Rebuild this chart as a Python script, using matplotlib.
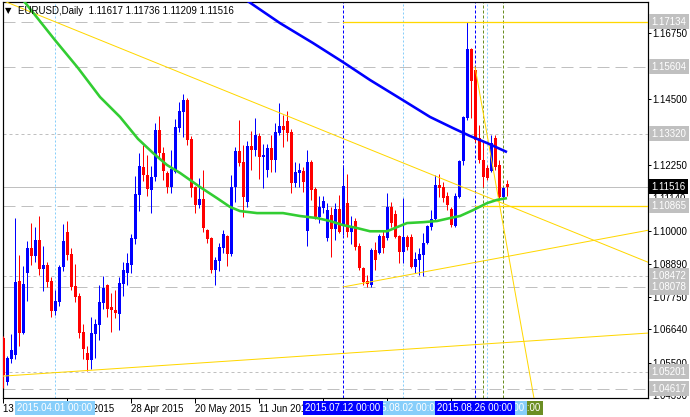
import numpy as np
import pandas as pd
import matplotlib
matplotlib.use("Agg")
import matplotlib.pyplot as plt
import matplotlib.transforms as mtransforms

PX = 0.72  # one pixel in points (dpi 100)

# EURUSD daily bars, one per business day starting 2015-03-13
opens = [1.0635, 1.0485, 1.0563, 1.0577, 1.0829, 1.0652, 1.0856, 1.0942, 1.0914, 1.0969,
         1.0870, 1.0884, 1.0829, 1.0727, 1.0758, 1.0877, 1.0996, 1.0921, 1.0812, 1.0778,
         1.0655, 1.0584, 1.0560, 1.0649, 1.0680, 1.0754, 1.0816, 1.0741, 1.0730, 1.0717,
         1.0819, 1.0856, 1.0884, 1.0972, 1.1123, 1.1218, 1.1191, 1.1140, 1.1184, 1.1344,
         1.1266, 1.1197, 1.1150, 1.1201, 1.1351, 1.1406, 1.1447, 1.1314, 1.1150, 1.1088,
         1.1109, 1.1003, 1.0976, 1.0867, 1.0897, 1.0942, 1.0983, 1.0921, 1.1150, 1.1273,
         1.1235, 1.1099, 1.1290, 1.1276, 1.1324, 1.1252, 1.1208, 1.1283, 1.1242, 1.1334,
         1.1358, 1.1375, 1.1337, 1.1163, 1.1197, 1.1204, 1.0999, 1.1235, 1.1143, 1.1048,
         1.1078, 1.0976, 1.1054, 1.1006, 1.1075, 1.1020, 1.1095, 1.0996, 1.1034, 1.0949,
         1.0874, 1.0830, 1.0816, 1.0935, 1.0925, 1.0983, 1.0976, 1.1082, 1.1058, 1.0983,
         1.0928, 1.0979, 1.0979, 1.0877, 1.0901, 1.0918, 1.0959, 1.1013, 1.1041, 1.1157,
         1.1150, 1.1119, 1.1075, 1.1017, 1.1116, 1.1238, 1.1385, 1.1620, 1.1549, 1.1317,
         1.1242, 1.1215, 1.1204, 1.1317, 1.1225, 1.1116, 1.11617]
highs = [1.0642, 1.0574, 1.0649, 1.1044, 1.0918, 1.0880, 1.0966, 1.1027, 1.1013, 1.1051,
         1.0949, 1.0894, 1.0843, 1.0799, 1.0884, 1.1024, 1.1034, 1.0942, 1.0887, 1.0788,
         1.0683, 1.0608, 1.0707, 1.0700, 1.0816, 1.0846, 1.0819, 1.0788, 1.0799, 1.0843,
         1.0894, 1.0925, 1.0990, 1.1187, 1.1266, 1.1293, 1.1259, 1.1221, 1.1368, 1.1392,
         1.1286, 1.1204, 1.1276, 1.1382, 1.1440, 1.1467, 1.1454, 1.1324, 1.1153, 1.1181,
         1.1208, 1.1006, 1.0979, 1.0911, 1.0959, 1.1003, 1.0986, 1.1191, 1.1286, 1.1378,
         1.1293, 1.1307, 1.1341, 1.1385, 1.1334, 1.1297, 1.1297, 1.1327, 1.1368, 1.1436,
         1.1395, 1.1409, 1.1348, 1.1235, 1.1232, 1.1218, 1.1276, 1.1242, 1.1150, 1.1119,
         1.1119, 1.1095, 1.1082, 1.1095, 1.1123, 1.1225, 1.1194, 1.1050, 1.1044, 1.0959,
         1.0877, 1.0850, 1.0942, 1.0962, 1.0990, 1.1003, 1.1129, 1.1099, 1.1071, 1.0986,
         1.1112, 1.0986, 1.0990, 1.0928, 1.0942, 1.0993, 1.1020, 1.1071, 1.1191, 1.1194,
         1.1167, 1.1133, 1.1082, 1.1129, 1.1242, 1.1392, 1.1713, 1.1624, 1.1560, 1.1361,
         1.1303, 1.1225, 1.1327, 1.1327, 1.1242, 1.1150, 1.11736]
lows = [1.0465, 1.0475, 1.0550, 1.0563, 1.0608, 1.0650, 1.0761, 1.0884, 1.0894, 1.0850,
        1.0795, 1.0809, 1.0707, 1.0713, 1.0744, 1.0863, 1.0901, 1.0799, 1.0758, 1.0635,
        1.0563, 1.0521, 1.0530, 1.0567, 1.0628, 1.0734, 1.0707, 1.0655, 1.0703, 1.0662,
        1.0778, 1.0816, 1.0856, 1.0955, 1.1068, 1.1170, 1.1119, 1.1061, 1.1170, 1.1245,
        1.1174, 1.1129, 1.1129, 1.1197, 1.1337, 1.1320, 1.1293, 1.1116, 1.1061, 1.1078,
        1.0996, 1.0959, 1.0856, 1.0816, 1.0863, 1.0925, 1.0880, 1.0914, 1.1100, 1.1221,
        1.1048, 1.1082, 1.1208, 1.1256, 1.1177, 1.1147, 1.1184, 1.1201, 1.1201, 1.1327,
        1.1286, 1.1307, 1.1129, 1.1150, 1.1150, 1.1133, 1.0949, 1.1106, 1.1041, 1.1027,
        1.1061, 1.0966, 1.0911, 1.0969, 1.0993, 1.0986, 1.0979, 1.0955, 1.0935, 1.0867,
        1.0816, 1.0808, 1.0809, 1.0867, 1.0921, 1.0925, 1.0969, 1.1013, 1.0976, 1.0891,
        1.0891, 1.0935, 1.0874, 1.0856, 1.0849, 1.0848, 1.0955, 1.1003, 1.1037, 1.1116,
        1.1099, 1.1071, 1.1013, 1.1013, 1.1112, 1.1225, 1.1378, 1.1385, 1.1303, 1.1232,
        1.1150, 1.1174, 1.1201, 1.1208, 1.1106, 1.1105, 1.11209]
closes = [1.0509, 1.0567, 1.0594, 1.0826, 1.0652, 1.0819, 1.0942, 1.0914, 1.0969, 1.0870,
          1.0884, 1.0826, 1.0727, 1.0761, 1.0877, 1.0966, 1.0918, 1.0809, 1.0775, 1.0652,
          1.0597, 1.0560, 1.0652, 1.0683, 1.0758, 1.0806, 1.0734, 1.0730, 1.0720, 1.0822,
          1.0867, 1.0890, 1.0976, 1.1126, 1.1221, 1.1191, 1.1143, 1.1184, 1.1344, 1.1266,
          1.1204, 1.1150, 1.1211, 1.1354, 1.1409, 1.1447, 1.1310, 1.1147, 1.1088, 1.1109,
          1.1010, 1.0972, 1.0867, 1.0901, 1.0945, 1.0990, 1.0921, 1.1150, 1.1273, 1.1232,
          1.1116, 1.1290, 1.1276, 1.1327, 1.1252, 1.1259, 1.1283, 1.1242, 1.1337, 1.1358,
          1.1344, 1.1334, 1.1163, 1.1201, 1.1208, 1.1167, 1.1235, 1.1140, 1.1048, 1.1082,
          1.1102, 1.1071, 1.1006, 1.1075, 1.0996, 1.1153, 1.0996, 1.1010, 1.0945, 1.0874,
          1.0826, 1.0819, 1.0935, 1.0901, 1.0983, 1.0942, 1.1082, 1.1027, 1.0979, 1.0928,
          1.0979, 1.0945, 1.0877, 1.0904, 1.0921, 1.0959, 1.1017, 1.1041, 1.1157, 1.1146,
          1.1112, 1.1088, 1.1020, 1.1119, 1.1238, 1.1389, 1.1620, 1.1511, 1.1310, 1.1242,
          1.1184, 1.1181, 1.1300, 1.1218, 1.1116, 1.1147, 1.11516]

dates = pd.bdate_range("2015-03-13", periods=len(opens))

# moving averages (bar position, price)
green_ma_bar = [4, 5, 13, 18.75, 24.25, 29.25, 33.75, 37.5, 41, 44.25, 49.25, 53.5, 56.75,
                59.25, 63.5, 70, 74.25, 78.5, 81.75, 85, 88.5, 91.75, 96, 98.5, 101, 105,
                108.5, 111.75, 114.25, 117.5, 121, 123.5, 126]
green_ma_val = [1.1802, 1.1788, 1.1651, 1.1556, 1.1457, 1.1389, 1.1314, 1.1266, 1.1225,
                1.1198, 1.1150, 1.1112, 1.1082, 1.1068, 1.1061, 1.1061, 1.1051, 1.1044,
                1.1034, 1.1020, 1.1010, 1.0999, 1.0999, 1.1013, 1.1027, 1.1030, 1.1034,
                1.1044, 1.1051, 1.1071, 1.1095, 1.1106, 1.1112]
blue_ma_bar = [60, 60.75, 69.25, 77.5, 85, 91.75, 100, 106.75, 112.5, 116.75, 121, 126]
blue_ma_val = [1.1795, 1.1788, 1.1709, 1.1641, 1.1576, 1.1515, 1.1446, 1.1389, 1.1351,
               1.1324, 1.1300, 1.1269]

# trend lines: ((bar, price), (bar, price))
trend_lines = [((-1, 1.1791), (161.5, 1.0892)),
               ((-1, 1.0504), (161.5, 1.0652)),
               ((85, 1.0809), (161.5, 1.1003)),
               ((118, 1.1560), (133, 1.0410))]
yellow_levels = [(85, 1.17134), (118, 1.10865)]

levels = [1.17134, 1.15604, 1.13320, 1.10865, 1.08472, 1.08078, 1.05201, 1.04617]
level_dash = ["long", "long", "short", "long", "short", "long", "short", "long"]
last_price = 1.11516

y_ticks = [1.16750, 1.14500, 1.12250, 1.11140, 1.10000, 1.08890, 1.07750, 1.06640,
           1.05500, 1.04390]
x_tick_bars = [0, 16, 32, 48, 64, 80, 96, 112]
x_tick_labels = ["13 Mar 2015", "6 Apr 2015", "28 Apr 2015", "20 May 2015",
                 "11 Jun 2015", "3 Jul 2015", "27 Jul 2015", "18 Aug 2015"]

# vertical markers: date, colour, style (drawn bottom to top)
v_markers = [("2015-09-04", "#6B8E23", "olive"),
             ("2015-08-28", "#6B8E23", "olive"),
             ("2015-08-31", "#87CEFA", "light"),
             ("2015-08-02", "#87CEFA", "light"),
             ("2015-04-01", "#87CEFA", "light"),
             ("2015-08-26", "#0000FF", "blue"),
             ("2015-07-12", "#0000FF", "blue")]

header = "EURUSD,Daily  1.11617 1.11736 1.11209 1.11516"

plt.rcParams["font.family"] = ["Liberation Sans", "DejaVu Sans"]
FS = 7

W, H = 690, 417
fig = plt.figure(figsize=(W / 100, H / 100), dpi=100, facecolor="white")
ax = fig.add_axes([2.5 / W, (H - 397.5) / H, 645 / W, 395.5 / H])
ax.set_xlim(-0.125, 161.125)
ax.set_ylim(1.0432, 1.1781)

dash_long = (0, (12, 6))
dash_short = (0, (3, 3))

# horizontal levels
for lv, st in zip(levels, level_dash):
    ax.axhline(lv, color="#C0C0C0", lw=PX, ls=dash_long if st == "long" else dash_short,
               zorder=1)
ax.axhline(last_price, color="#C0C0C0", lw=PX, zorder=1)

# vertical markers
bar_of = lambda d: int(dates.searchsorted(pd.Timestamp(d), side="right") - 1)
for d, colr, kind in v_markers:
    ls = (0, (2, 2)) if kind == "light" else (0, (3, 2))
    ax.axvline(bar_of(d), color=colr, lw=PX, ls=ls, zorder=1)

# candles
xb = np.arange(len(opens))
o, h, l, c = map(np.array, (opens, highs, lows, closes))
cols = np.where(c >= o, "#0000FF", "#FF0000")
ax.vlines(xb, l, h, colors=cols, lw=PX, zorder=3)
ax.bar(xb, np.maximum(np.abs(c - o), 0.00012), bottom=np.minimum(o, c), width=0.75,
       color=cols, linewidth=0, zorder=3)

# yellow objects
for (x0, y0), (x1, y1) in trend_lines:
    ax.plot([x0, x1], [y0, y1], color="#FFD700", lw=PX, zorder=3.5)
for x0, lv in yellow_levels:
    ax.plot([x0, 162], [lv, lv], color="#FFD700", lw=PX * 1.3, zorder=3.5)

# moving averages
ax.plot(green_ma_bar, green_ma_val, color="#32CD32", lw=2.6 * PX, zorder=4,
        solid_capstyle="butt")
ax.plot(blue_ma_bar, blue_ma_val, color="#0000FF", lw=2.6 * PX, zorder=4,
        solid_capstyle="butt")

# axes styling
for sp in ax.spines.values():
    sp.set_color("black")
    sp.set_linewidth(PX * 1.2)
ax.yaxis.tick_right()
ax.set_yticks(y_ticks)
ax.set_yticklabels([f"{v:.5f}" for v in y_ticks], fontsize=FS)
ax.tick_params(axis="y", length=3 * PX, width=PX, pad=1.5 * PX, colors="black")
ax.set_xticks(x_tick_bars)
ax.set_xticklabels(x_tick_labels, fontsize=FS, ha="left")
ax.tick_params(axis="x", length=5 * PX, width=PX, pad=1.5 * PX, colors="black")

# price labels on the right scale
ytr = mtransforms.blended_transform_factory(ax.transAxes, ax.transData)
xlab = (651.5 - 2.5) / 645
for lv in levels:
    ax.text(xlab, lv, f"{lv:.5f}", transform=ytr, ha="left", va="center", fontsize=FS,
            color="white", clip_on=False, zorder=6,
            bbox=dict(boxstyle="square,pad=0.25", fc="#C0C0C0", ec="none"))
ax.text(xlab, last_price, f"{last_price:.5f}", transform=ytr, ha="left", va="center",
        fontsize=FS, color="white", clip_on=False, zorder=7,
        bbox=dict(boxstyle="square,pad=0.25", fc="black", ec="none"))

# date labels of the vertical markers
xtr = mtransforms.blended_transform_factory(ax.transData, ax.transAxes)
zo = 6
for d, colr, kind in v_markers:
    ax.text(bar_of(d), -10.5 / 395.5, pd.Timestamp(d).strftime("%Y.%m.%d 00:00"),
            transform=xtr, ha="center", va="center", fontsize=FS, color="white",
            clip_on=False, zorder=zo,
            bbox=dict(boxstyle="square,pad=0.2", fc=colr, ec="none"))
    zo += 0.1

# header
fig.text(5 / W, 1 - 11 / H, "\u25BC", fontsize=6, family="DejaVu Sans", va="center",
         ha="left", color="black")
fig.text(18 / W, 1 - 11 / H, header, fontsize=FS, va="center", ha="left", color="black")

fig.savefig("out.png", dpi=100, facecolor="white")
